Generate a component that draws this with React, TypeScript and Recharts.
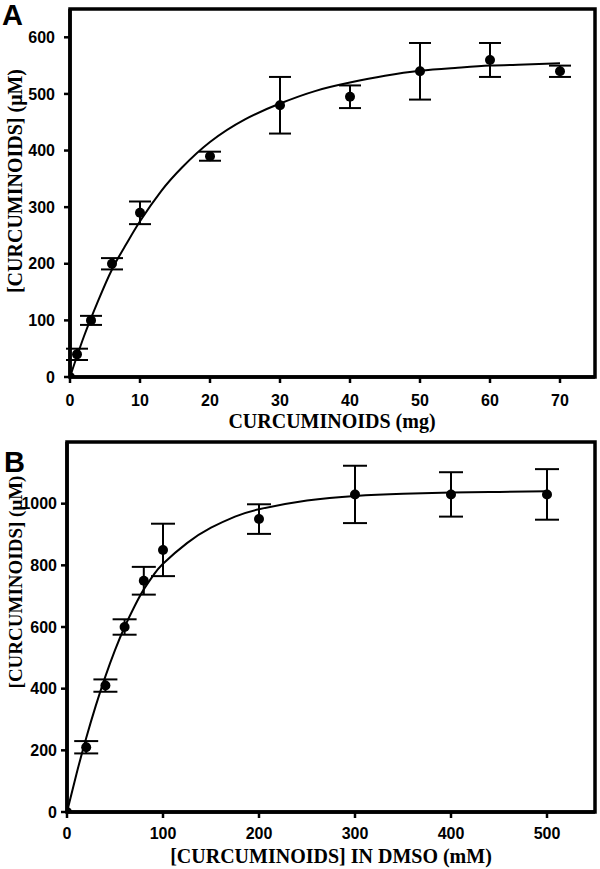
import React from 'react';
import { ComposedChart, Line, Scatter, ErrorBar, XAxis, YAxis, ReferenceArea } from 'recharts';

// Panel A: concentration vs amount of curcuminoids (mg)
const massMg = [0, 1, 3, 6, 10, 20, 30, 40, 50, 60, 70];
const concA = [0, 40, 100, 200, 290, 390, 480, 495, 540, 560, 540];
const errA = [0, 10, 8, 10, 20, 8, 50, 20, 50, 30, 10];
const fitXA = [0, 2, 4, 6, 8, 10, 13, 16, 20, 25, 30, 35, 40, 45, 50, 55, 60, 65, 70];
const fitYA = [0, 72, 134, 190, 234, 275, 328, 370, 415, 455, 483, 505, 520, 532, 541, 546, 550, 552, 554];
const ticksXA = [0, 10, 20, 30, 40, 50, 60, 70];
const ticksYA = [0, 100, 200, 300, 400, 500, 600];

// Panel B: concentration vs curcuminoids in DMSO (mM)
const dmsoMm = [0, 20, 40, 60, 80, 100, 200, 300, 400, 500];
const concB = [0, 210, 410, 600, 750, 850, 950, 1030, 1030, 1030];
const errB = [0, 20, 20, 25, 45, 85, 48, 93, 72, 82];
const fitXB = [0, 10, 20, 30, 40, 50, 60, 70, 80, 90, 100, 125, 150, 175, 200, 250, 300, 350, 400, 450, 500];
const fitYB = [0, 125, 240, 345, 440, 525, 600, 665, 722, 768, 805, 872, 922, 958, 982, 1010, 1025, 1032, 1036, 1038, 1040];
const ticksXB = [0, 100, 200, 300, 400, 500];
const ticksYB = [0, 200, 400, 600, 800, 1000];

const points = (xs: number[], ys: number[], es: number[]) =>
  xs.map((x, i) => ({ x, y: ys[i], err: es[i] }));
const curve = (xs: number[], ys: number[]) => xs.map((x, i) => ({ x, y: ys[i] }));

const sans = 'Liberation Sans, Arial, sans-serif';
const serif = 'Liberation Serif, Times New Roman, serif';

const Dot = (props: any) => <circle cx={props.cx} cy={props.cy} r={5} fill="#000" />;

interface PanelProps {
  top: number;
  height: number;
  marginTop: number;
  yWidth: number;
  xAxisHeight: number;
  xMax: number;
  yMax: number;
  xTicks: number[];
  yTicks: number[];
  pts: { x: number; y: number; err: number }[];
  fit: { x: number; y: number }[];
  fontSize: number;
  xTickMargin: number;
  yTickMargin: number;
  capWidth: number;
}

const Panel: React.FC<PanelProps> = (p) => (
  <div style={{ position: 'absolute', left: 0, top: p.top }}>
    <ComposedChart
      width={600}
      height={p.height}
      margin={{ top: p.marginTop, right: 5, bottom: 0, left: 0 }}
    >
      <ReferenceArea x1={0} x2={p.xMax} y1={0} y2={p.yMax} fill="none" stroke="#000" strokeWidth={3.5} />
      <XAxis
        type="number"
        dataKey="x"
        domain={[0, p.xMax]}
        ticks={p.xTicks}
        height={p.xAxisHeight}
        axisLine={{ stroke: '#000', strokeWidth: 3.5 }}
        tickLine={{ stroke: '#000', strokeWidth: 2.5 }}
        tickSize={6}
        tickMargin={p.xTickMargin}
        tick={{ fontSize: p.fontSize, fontWeight: 'bold', fill: '#000', fontFamily: sans }}
        allowDataOverflow
      />
      <YAxis
        type="number"
        dataKey="y"
        domain={[0, p.yMax]}
        ticks={p.yTicks}
        width={p.yWidth}
        axisLine={{ stroke: '#000', strokeWidth: 3.5 }}
        tickLine={{ stroke: '#000', strokeWidth: 2.5 }}
        tickSize={6}
        tickMargin={p.yTickMargin}
        tick={{ fontSize: p.fontSize, fontWeight: 'bold', fill: '#000', fontFamily: sans }}
        allowDataOverflow
      />
      <Line
        data={p.fit}
        dataKey="y"
        type="natural"
        stroke="#000"
        strokeWidth={2}
        dot={false}
        isAnimationActive={false}
      />
      <Scatter data={p.pts} dataKey="y" shape={<Dot />} isAnimationActive={false}>
        <ErrorBar dataKey="err" direction="y" width={p.capWidth} stroke="#000" strokeWidth={2} />
      </Scatter>
    </ComposedChart>
  </div>
);

export default function App() {
  return (
    <div style={{ position: 'absolute', left: 0, top: 0, width: 600, height: 869, background: '#fff' }}>
      <Panel
        top={0}
        height={435}
        marginTop={9}
        yWidth={70}
        xAxisHeight={58}
        xMax={75}
        yMax={650}
        xTicks={ticksXA}
        yTicks={ticksYA}
        pts={points(massMg, concA, errA)}
        fit={curve(fitXA, fitYA)}
        fontSize={16}
        xTickMargin={12}
        yTickMargin={9}
        capWidth={11}
      />
      <Panel
        top={435}
        height={434}
        marginTop={7}
        yWidth={67}
        xAxisHeight={57}
        xMax={550}
        yMax={1200}
        xTicks={ticksXB}
        yTicks={ticksYB}
        pts={points(dmsoMm, concB, errB)}
        fit={curve(fitXB, fitYB)}
        fontSize={16}
        xTickMargin={10}
        yTickMargin={4}
        capWidth={12}
      />
      <svg
        width={600}
        height={869}
        style={{ position: 'absolute', left: 0, top: 0, pointerEvents: 'none' }}
      >
        <text x={2} y={25} fontSize={29} fontWeight="bold" fontFamily={sans}>A</text>
        <text x={4} y={472} fontSize={29} fontWeight="bold" fontFamily={sans}>B</text>
        <text x={332} y={428} textAnchor="middle" fontSize={20} fontWeight="bold" fontFamily={serif}>
          CURCUMINOIDS (mg)
        </text>
        <text x={331} y={863} textAnchor="middle" fontSize={20} fontWeight="bold" fontFamily={serif}>
          [CURCUMINOIDS] IN DMSO (mM)
        </text>
        <text transform="translate(22,181) rotate(-90)" textAnchor="middle" fontSize={20} fontWeight="bold" fontFamily={serif}>
          [CURCUMINOIDS] (μM)
        </text>
        <text transform="translate(22,582) rotate(-90)" textAnchor="middle" fontSize={19} fontWeight="bold" fontFamily={serif}>
          [CURCUMINOIDS] (μM)
        </text>
      </svg>
    </div>
  );
}
